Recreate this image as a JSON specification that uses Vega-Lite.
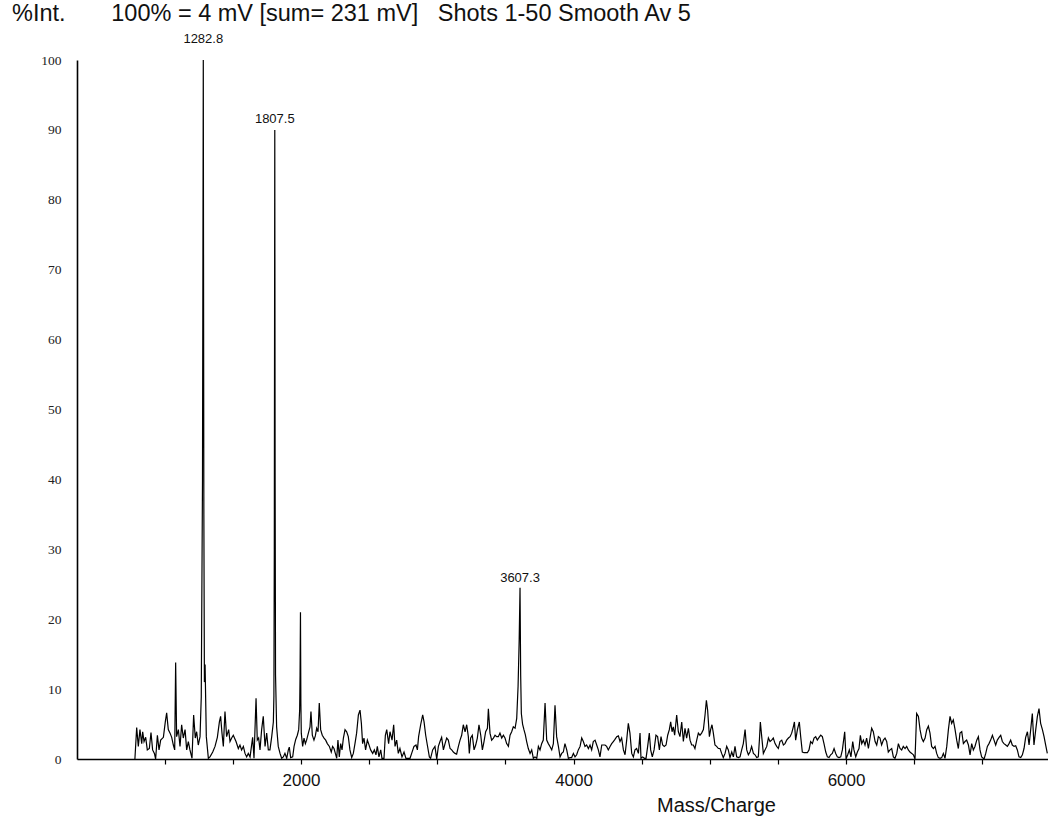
{
  "$schema": "https://vega.github.io/schema/vega-lite/v6.json",
  "width": 971,
  "height": 699,
  "autosize": {"type": "none"},
  "padding": {"left": 77, "top": 60, "right": 0, "bottom": 64},
  "background": "white",
  "config": {"view": {"stroke": null}, "font": "Liberation Sans"},
  "title": {
    "text": "%Int.\u00a0\u00a0\u00a0\u00a0\u00a0\u00a0\u00a0100% = 4 mV [sum= 231 mV]\u00a0\u00a0\u00a0Shots 1-50 Smooth Av 5",
    "anchor": "start",
    "frame": "group",
    "dx": -65,
    "dy": 20,
    "fontSize": 23.5,
    "fontWeight": "normal",
    "font": "Liberation Sans",
    "color": "#111",
    "baseline": "alphabetic",
    "offset": 8
  },
  "datasets": {
    "spec": [
      {"mz":781,"i":0},{"mz":794,"i":4.5},{"mz":806,"i":1.8},{"mz":818,"i":4.2},{"mz":831,"i":2.2},{"mz":838,"i":3.9},{"mz":848,"i":2.5},{"mz":860,"i":3.1},{"mz":872,"i":1.3},{"mz":887,"i":1.5},{"mz":899,"i":3.8},{"mz":911,"i":1.3},{"mz":924,"i":0.8},{"mz":933,"i":0},{"mz":946,"i":3.4},{"mz":958,"i":1.3},{"mz":970,"i":2.7},{"mz":990,"i":3.1},{"mz":1004,"i":5.3},{"mz":1014,"i":6.6},{"mz":1026,"i":4.2},{"mz":1039,"i":3.7},{"mz":1051,"i":3.1},{"mz":1063,"i":2.0},{"mz":1073,"i":1.3},{"mz":1080,"i":13.8},{"mz":1087,"i":3.2},{"mz":1100,"i":4.2},{"mz":1112,"i":1.8},{"mz":1124,"i":4.9},{"mz":1136,"i":3.0},{"mz":1149,"i":4.2},{"mz":1161,"i":1.3},{"mz":1173,"i":2.5},{"mz":1185,"i":1.3},{"mz":1200,"i":0.1},{"mz":1212,"i":6.3},{"mz":1224,"i":3.0},{"mz":1234,"i":3.9},{"mz":1246,"i":2.0},{"mz":1259,"i":3.2},{"mz":1268,"i":8.9},{"mz":1277,"i":40},{"mz":1282.8,"i":100},{"mz":1287,"i":35},{"mz":1291,"i":11},{"mz":1296,"i":13.5},{"mz":1305,"i":3.2},{"mz":1320,"i":0.1},{"mz":1332,"i":0.3},{"mz":1352,"i":1.0},{"mz":1369,"i":1.8},{"mz":1386,"i":3.1},{"mz":1401,"i":5.3},{"mz":1410,"i":6.1},{"mz":1420,"i":3.7},{"mz":1430,"i":1.8},{"mz":1442,"i":6.8},{"mz":1454,"i":3.2},{"mz":1469,"i":4.2},{"mz":1479,"i":2.5},{"mz":1491,"i":3.0},{"mz":1503,"i":3.4},{"mz":1523,"i":2.5},{"mz":1540,"i":1.5},{"mz":1552,"i":2.0},{"mz":1564,"i":1.3},{"mz":1577,"i":1.8},{"mz":1589,"i":0.8},{"mz":1601,"i":0.3},{"mz":1613,"i":0.8},{"mz":1626,"i":0.3},{"mz":1645,"i":3.1},{"mz":1655,"i":0.1},{"mz":1670,"i":8.7},{"mz":1679,"i":2.7},{"mz":1689,"i":3.0},{"mz":1699,"i":1.3},{"mz":1711,"i":4.2},{"mz":1723,"i":6.1},{"mz":1736,"i":1.8},{"mz":1748,"i":3.7},{"mz":1760,"i":1.3},{"mz":1772,"i":1.3},{"mz":1785,"i":3.2},{"mz":1797,"i":5.3},{"mz":1801,"i":9},{"mz":1804,"i":30},{"mz":1807.5,"i":90},{"mz":1810,"i":40},{"mz":1813,"i":12},{"mz":1821,"i":4.6},{"mz":1833,"i":1.8},{"mz":1846,"i":0.8},{"mz":1858,"i":0.1},{"mz":1870,"i":0.3},{"mz":1882,"i":0.8},{"mz":1895,"i":0.1},{"mz":1907,"i":1.3},{"mz":1914,"i":1.7},{"mz":1924,"i":0.2},{"mz":1939,"i":0.3},{"mz":1949,"i":1.8},{"mz":1961,"i":2.8},{"mz":1973,"i":3.4},{"mz":1983,"i":4.2},{"mz":1990,"i":7.0},{"mz":1993,"i":12},{"mz":1996,"i":21},{"mz":1999,"i":8},{"mz":2002,"i":3.7},{"mz":2012,"i":1.8},{"mz":2022,"i":3.0},{"mz":2032,"i":2.2},{"mz":2041,"i":2.7},{"mz":2054,"i":3.7},{"mz":2066,"i":4.6},{"mz":2073,"i":6.8},{"mz":2083,"i":3.4},{"mz":2095,"i":2.7},{"mz":2105,"i":3.3},{"mz":2115,"i":4.4},{"mz":2125,"i":3.9},{"mz":2134,"i":8.0},{"mz":2144,"i":4.2},{"mz":2156,"i":3.4},{"mz":2169,"i":3.0},{"mz":2181,"i":2.7},{"mz":2193,"i":2.2},{"mz":2208,"i":1.8},{"mz":2222,"i":1.0},{"mz":2232,"i":1.8},{"mz":2242,"i":1.5},{"mz":2252,"i":0.8},{"mz":2262,"i":0.1},{"mz":2271,"i":2.7},{"mz":2281,"i":0.3},{"mz":2291,"i":2.2},{"mz":2301,"i":1.3},{"mz":2311,"i":3.0},{"mz":2323,"i":4.2},{"mz":2335,"i":3.9},{"mz":2347,"i":3.2},{"mz":2359,"i":1.3},{"mz":2372,"i":0.2},{"mz":2384,"i":0.8},{"mz":2396,"i":2.2},{"mz":2408,"i":3.7},{"mz":2421,"i":6.3},{"mz":2433,"i":7.0},{"mz":2443,"i":5.1},{"mz":2452,"i":2.2},{"mz":2462,"i":3.0},{"mz":2474,"i":1.3},{"mz":2487,"i":2.7},{"mz":2496,"i":2.2},{"mz":2511,"i":1.3},{"mz":2526,"i":0.8},{"mz":2538,"i":1.3},{"mz":2550,"i":0.6},{"mz":2560,"i":1.8},{"mz":2572,"i":0.3},{"mz":2585,"i":1.3},{"mz":2594,"i":0.1},{"mz":2609,"i":0.1},{"mz":2619,"i":3.4},{"mz":2629,"i":4.2},{"mz":2643,"i":2.2},{"mz":2653,"i":3.9},{"mz":2668,"i":2.7},{"mz":2680,"i":4.9},{"mz":2690,"i":1.8},{"mz":2702,"i":2.7},{"mz":2714,"i":0.8},{"mz":2726,"i":1.5},{"mz":2741,"i":0.3},{"mz":2756,"i":1.0},{"mz":2770,"i":0.1},{"mz":2800,"i":0.1},{"mz":2812,"i":0.8},{"mz":2829,"i":1.8},{"mz":2844,"i":2.0},{"mz":2854,"i":1.3},{"mz":2863,"i":3.2},{"mz":2878,"i":4.9},{"mz":2893,"i":6.3},{"mz":2903,"i":5.3},{"mz":2915,"i":3.4},{"mz":2927,"i":2.0},{"mz":2942,"i":0.3},{"mz":2951,"i":0.1},{"mz":2966,"i":1.3},{"mz":2983,"i":1.8},{"mz":2996,"i":0},{"mz":3008,"i":1.8},{"mz":3020,"i":2.5},{"mz":3032,"i":3.1},{"mz":3045,"i":1.3},{"mz":3057,"i":2.2},{"mz":3069,"i":3.0},{"mz":3081,"i":2.7},{"mz":3094,"i":1.5},{"mz":3106,"i":1.3},{"mz":3118,"i":1.0},{"mz":3130,"i":0.8},{"mz":3142,"i":0.7},{"mz":3155,"i":1.8},{"mz":3167,"i":2.7},{"mz":3179,"i":3.4},{"mz":3191,"i":4.9},{"mz":3204,"i":3.9},{"mz":3216,"i":4.9},{"mz":3228,"i":3.2},{"mz":3235,"i":0.8},{"mz":3245,"i":3.0},{"mz":3257,"i":3.4},{"mz":3270,"i":1.3},{"mz":3282,"i":2.0},{"mz":3294,"i":3.0},{"mz":3306,"i":4.9},{"mz":3319,"i":3.4},{"mz":3331,"i":1.3},{"mz":3343,"i":2.5},{"mz":3355,"i":3.9},{"mz":3368,"i":4.4},{"mz":3375,"i":7.2},{"mz":3387,"i":3.7},{"mz":3399,"i":2.7},{"mz":3412,"i":3.0},{"mz":3424,"i":3.4},{"mz":3436,"i":3.2},{"mz":3448,"i":3.2},{"mz":3460,"i":3.7},{"mz":3473,"i":3.0},{"mz":3485,"i":3.4},{"mz":3497,"i":3.0},{"mz":3509,"i":2.2},{"mz":3522,"i":1.8},{"mz":3534,"i":3.4},{"mz":3546,"i":3.9},{"mz":3558,"i":4.6},{"mz":3571,"i":4.4},{"mz":3583,"i":5.8},{"mz":3593,"i":10.4},{"mz":3601,"i":17},{"mz":3607.3,"i":24.5},{"mz":3612,"i":12},{"mz":3617,"i":6.5},{"mz":3626,"i":5.0},{"mz":3636,"i":4.2},{"mz":3646,"i":3.5},{"mz":3656,"i":2.5},{"mz":3668,"i":1.5},{"mz":3681,"i":0.8},{"mz":3693,"i":1.3},{"mz":3705,"i":0.1},{"mz":3717,"i":0.3},{"mz":3730,"i":0.1},{"mz":3742,"i":1.8},{"mz":3754,"i":1.3},{"mz":3766,"i":2.2},{"mz":3778,"i":2.7},{"mz":3791,"i":8.0},{"mz":3803,"i":2.7},{"mz":3815,"i":2.2},{"mz":3827,"i":1.8},{"mz":3840,"i":1.3},{"mz":3852,"i":2.2},{"mz":3864,"i":7.7},{"mz":3876,"i":3.2},{"mz":3889,"i":1.8},{"mz":3901,"i":0.3},{"mz":3913,"i":0.8},{"mz":3925,"i":1.0},{"mz":3937,"i":2.2},{"mz":3950,"i":1.3},{"mz":3962,"i":0.1},{"mz":3974,"i":0.2},{"mz":3986,"i":0.2},{"mz":3999,"i":0.8},{"mz":4011,"i":0.3},{"mz":4023,"i":0.6},{"mz":4035,"i":1.3},{"mz":4048,"i":1.8},
      {"mz":4060,"i":3.0},{"mz":4072,"i":2.5},{"mz":4084,"i":1.8},{"mz":4096,"i":2.0},{"mz":4109,"i":1.5},{"mz":4121,"i":2.0},{"mz":4133,"i":1.3},{"mz":4145,"i":2.5},{"mz":4158,"i":2.7},{"mz":4170,"i":2.0},{"mz":4182,"i":1.3},{"mz":4194,"i":0.3},{"mz":4207,"i":2.0},{"mz":4219,"i":2.0},{"mz":4231,"i":2.0},{"mz":4243,"i":1.8},{"mz":4255,"i":1.3},{"mz":4268,"i":1.8},{"mz":4280,"i":2.2},{"mz":4292,"i":2.5},{"mz":4304,"i":2.8},{"mz":4317,"i":3.2},{"mz":4329,"i":3.3},{"mz":4341,"i":2.5},{"mz":4353,"i":3.0},{"mz":4366,"i":1.3},{"mz":4378,"i":0.6},{"mz":4390,"i":2.7},{"mz":4402,"i":5.1},{"mz":4414,"i":3.7},{"mz":4427,"i":0.8},{"mz":4439,"i":0.3},{"mz":4451,"i":1.3},{"mz":4463,"i":1.5},{"mz":4476,"i":0.8},{"mz":4488,"i":3.7},{"mz":4495,"i":0.1},{"mz":4507,"i":0.3},{"mz":4520,"i":0.1},{"mz":4532,"i":0.1},{"mz":4544,"i":1.8},{"mz":4556,"i":3.7},{"mz":4566,"i":1.3},{"mz":4578,"i":0.3},{"mz":4591,"i":1.3},{"mz":4605,"i":3.4},{"mz":4617,"i":3.2},{"mz":4630,"i":1.3},{"mz":4642,"i":3.2},{"mz":4654,"i":2.0},{"mz":4666,"i":1.8},{"mz":4679,"i":2.0},{"mz":4691,"i":3.4},{"mz":4703,"i":4.2},{"mz":4713,"i":5.3},{"mz":4723,"i":3.9},{"mz":4732,"i":4.6},{"mz":4742,"i":3.4},{"mz":4757,"i":6.3},{"mz":4769,"i":3.9},{"mz":4781,"i":3.2},{"mz":4794,"i":5.3},{"mz":4806,"i":2.5},{"mz":4818,"i":4.4},{"mz":4830,"i":3.0},{"mz":4843,"i":4.4},{"mz":4855,"i":2.7},{"mz":4867,"i":2.0},{"mz":4879,"i":2.0},{"mz":4891,"i":1.5},{"mz":4904,"i":2.7},{"mz":4916,"i":3.7},{"mz":4928,"i":3.4},{"mz":4940,"i":3.7},{"mz":4953,"i":4.2},{"mz":4965,"i":6.3},{"mz":4975,"i":8.4},{"mz":4984,"i":7.0},{"mz":4997,"i":3.2},{"mz":5006,"i":4.2},{"mz":5016,"i":4.9},{"mz":5026,"i":3.7},{"mz":5038,"i":2.0},{"mz":5050,"i":1.8},{"mz":5063,"i":1.5},{"mz":5075,"i":1.5},{"mz":5087,"i":0.8},{"mz":5099,"i":0.2},{"mz":5112,"i":0.8},{"mz":5124,"i":1.8},{"mz":5136,"i":1.3},{"mz":5148,"i":0.2},
      {"mz":5161,"i":1.0},{"mz":5173,"i":0.3},{"mz":5185,"i":1.8},{"mz":5197,"i":0.3},{"mz":5210,"i":0.2},{"mz":5222,"i":0.3},{"mz":5234,"i":1.3},{"mz":5246,"i":2.2},{"mz":5259,"i":4.2},{"mz":5271,"i":1.3},{"mz":5283,"i":0.6},{"mz":5295,"i":1.0},{"mz":5307,"i":1.8},{"mz":5320,"i":0.8},{"mz":5332,"i":0.6},{"mz":5344,"i":0.2},{"mz":5356,"i":0.3},{"mz":5364,"i":2.7},{"mz":5371,"i":5.3},{"mz":5381,"i":3.2},{"mz":5393,"i":0.8},{"mz":5405,"i":1.3},{"mz":5418,"i":1.8},{"mz":5430,"i":3.0},{"mz":5442,"i":2.5},{"mz":5454,"i":2.7},{"mz":5466,"i":3.0},{"mz":5479,"i":2.2},{"mz":5491,"i":1.8},{"mz":5503,"i":1.5},{"mz":5515,"i":2.5},{"mz":5528,"i":2.7},{"mz":5540,"i":2.0},{"mz":5552,"i":2.2},{"mz":5564,"i":2.7},{"mz":5577,"i":3.0},{"mz":5589,"i":3.2},{"mz":5601,"i":3.7},{"mz":5613,"i":4.6},{"mz":5621,"i":5.3},{"mz":5630,"i":2.7},{"mz":5643,"i":4.2},{"mz":5657,"i":5.3},{"mz":5667,"i":3.2},{"mz":5679,"i":1.0},{"mz":5692,"i":0.9},{"mz":5704,"i":0.9},{"mz":5716,"i":0.9},{"mz":5728,"i":1.3},{"mz":5740,"i":2.5},{"mz":5753,"i":2.2},{"mz":5765,"i":3.0},{"mz":5777,"i":3.2},{"mz":5789,"i":2.7},{"mz":5802,"i":3.1},{"mz":5814,"i":3.4},{"mz":5826,"i":3.2},{"mz":5838,"i":2.2},{"mz":5851,"i":1.0},{"mz":5863,"i":0.3},{"mz":5875,"i":0.2},{"mz":5887,"i":0.6},{"mz":5899,"i":0.8},{"mz":5912,"i":1.5},{"mz":5924,"i":0.8},{"mz":5936,"i":0.3},{"mz":5948,"i":0.2},{"mz":5961,"i":0.3},{"mz":5973,"i":1.3},{"mz":5990,"i":3.9},{"mz":6000,"i":0},{"mz":6012,"i":0.6},{"mz":6024,"i":1.3},{"mz":6036,"i":0.3},{"mz":6049,"i":2.5},{"mz":6058,"i":1.3},{"mz":6071,"i":0.3},{"mz":6083,"i":1.0},{"mz":6095,"i":1.5},{"mz":6105,"i":3.4},{"mz":6115,"i":2.2},{"mz":6127,"i":2.7},{"mz":6139,"i":2.0},{"mz":6151,"i":3.0},{"mz":6164,"i":1.5},{"mz":6176,"i":3.0},{"mz":6188,"i":4.4},{"mz":6200,"i":3.9},{"mz":6213,"i":2.5},{"mz":6225,"i":2.0},{"mz":6237,"i":3.2},{"mz":6249,"i":3.0},
      {"mz":6261,"i":2.0},{"mz":6274,"i":2.7},{"mz":6286,"i":3.0},{"mz":6298,"i":2.5},{"mz":6310,"i":1.0},{"mz":6323,"i":1.3},{"mz":6335,"i":1.5},{"mz":6347,"i":0.3},{"mz":6359,"i":0.1},{"mz":6372,"i":0.8},{"mz":6384,"i":2.2},{"mz":6396,"i":1.5},{"mz":6408,"i":1.3},{"mz":6420,"i":1.8},{"mz":6433,"i":1.5},{"mz":6445,"i":1.8},{"mz":6457,"i":1.3},{"mz":6469,"i":1.0},{"mz":6482,"i":0.8},{"mz":6494,"i":0.6},{"mz":6506,"i":0},{"mz":6518,"i":6.5},{"mz":6531,"i":6.1},{"mz":6543,"i":4.2},{"mz":6555,"i":3.0},{"mz":6567,"i":2.5},{"mz":6580,"i":3.0},{"mz":6592,"i":4.2},{"mz":6604,"i":4.7},{"mz":6616,"i":3.7},{"mz":6628,"i":1.8},{"mz":6641,"i":1.5},{"mz":6653,"i":1.8},{"mz":6665,"i":0.8},{"mz":6677,"i":0.2},{"mz":6690,"i":0.1},{"mz":6702,"i":0.2},{"mz":6714,"i":0.8},{"mz":6726,"i":0.1},{"mz":6739,"i":1.8},{"mz":6751,"i":4.2},{"mz":6763,"i":6.1},{"mz":6775,"i":5.1},{"mz":6787,"i":5.6},{"mz":6800,"i":4.2},{"mz":6812,"i":2.7},{"mz":6824,"i":1.5},{"mz":6836,"i":3.7},{"mz":6849,"i":3.9},{"mz":6861,"i":2.2},{"mz":6873,"i":2.5},{"mz":6885,"i":2.7},{"mz":6898,"i":2.0},{"mz":6910,"i":0.6},{"mz":6922,"i":2.2},{"mz":6934,"i":1.3},{"mz":6946,"i":1.8},{"mz":6959,"i":2.7},{"mz":6971,"i":3.2},{"mz":6983,"i":1.3},{"mz":6995,"i":0.3},{"mz":7013,"i":0},{"mz":7025,"i":0.8},{"mz":7037,"i":1.8},{"mz":7049,"i":2.2},{"mz":7061,"i":2.7},{"mz":7074,"i":3.4},{"mz":7086,"i":2.7},{"mz":7098,"i":2.0},{"mz":7110,"i":2.7},{"mz":7123,"i":3.1},{"mz":7135,"i":3.4},{"mz":7147,"i":2.5},{"mz":7159,"i":2.2},{"mz":7172,"i":2.0},{"mz":7184,"i":1.8},{"mz":7196,"i":2.2},{"mz":7208,"i":2.7},{"mz":7220,"i":2.0},{"mz":7233,"i":1.8},{"mz":7245,"i":1.9},{"mz":7257,"i":1.3},{"mz":7269,"i":0.3},{"mz":7282,"i":0.2},{"mz":7294,"i":0.6},{"mz":7306,"i":1.5},{"mz":7318,"i":3.1},{"mz":7331,"i":3.9},{"mz":7343,"i":2.0},{"mz":7355,"i":4.2},{"mz":7367,"i":6.5},{"mz":7379,"i":2.0},{"mz":7392,"i":4.2},{"mz":7404,"i":6.1},{"mz":7416,"i":7.2},{"mz":7428,"i":5.1},{"mz":7441,"i":4.2},{"mz":7453,"i":3.2},{"mz":7465,"i":2.0},{"mz":7477,"i":0.8}
    ],
    "peaks": [
      {"mz": 1282.8, "at": 102.5, "label": "1282.8"},
      {"mz": 1807.5, "at": 91, "label": "1807.5"},
      {"mz": 3607.3, "at": 25.3, "label": "3607.3"}
    ]
  },
  "layer": [
    {
      "data": {"name": "spec"},
      "mark": {"type": "line", "color": "black", "strokeWidth": 1.2, "clip": true},
      "encoding": {
        "x": {
          "field": "mz", "type": "quantitative",
          "scale": {"domain": [356, 7482], "nice": false, "zero": false},
          "axis": {
            "title": "Mass/Charge",
            "values": [1000,1500,2000,2500,3000,3500,4000,4500,5000,5500,6000,6500,7000],
            "labelExpr": "datum.value % 2000 === 0 ? format(datum.value, 'd') : ''",
            "grid": false,
            "tickSize": 5,
            "tickColor": "black",
            "tickWidth": 1.2,
            "domainColor": "black",
            "domainWidth": 1.6,
            "labelFont": "Liberation Sans",
            "labelFontSize": 17,
            "labelColor": "#111",
            "labelPadding": 8,
            "labelFlush": false,
            "labelOverlap": false,
            "titleFont": "Liberation Sans",
            "titleFontSize": 20,
            "titleFontWeight": "normal",
            "titleColor": "#111",
            "titleX": 639,
            "titleY": 52,
            "titleAlign": "center",
            "titleBaseline": "alphabetic"
          }
        },
        "y": {
          "field": "i", "type": "quantitative",
          "scale": {"domain": [0, 100], "nice": false},
          "axis": {
            "title": null,
            "values": [0,10,20,30,40,50,60,70,80,90,100],
            "grid": false,
            "ticks": false,
            "domainColor": "black",
            "domainWidth": 1.6,
            "labelFont": "Liberation Serif",
            "labelFontSize": 13.5,
            "labelColor": "#222",
            "labelPadding": 16
          }
        }
      }
    },
    {
      "data": {"name": "peaks"},
      "mark": {"type": "text", "baseline": "alphabetic", "align": "center", "fontSize": 13, "font": "Liberation Sans", "color": "#111"},
      "encoding": {
        "x": {"field": "mz", "type": "quantitative", "axis": {"title": "Mass/Charge"}},
        "y": {"field": "at", "type": "quantitative", "axis": {"title": null}},
        "text": {"field": "label"}
      }
    }
  ]
}
